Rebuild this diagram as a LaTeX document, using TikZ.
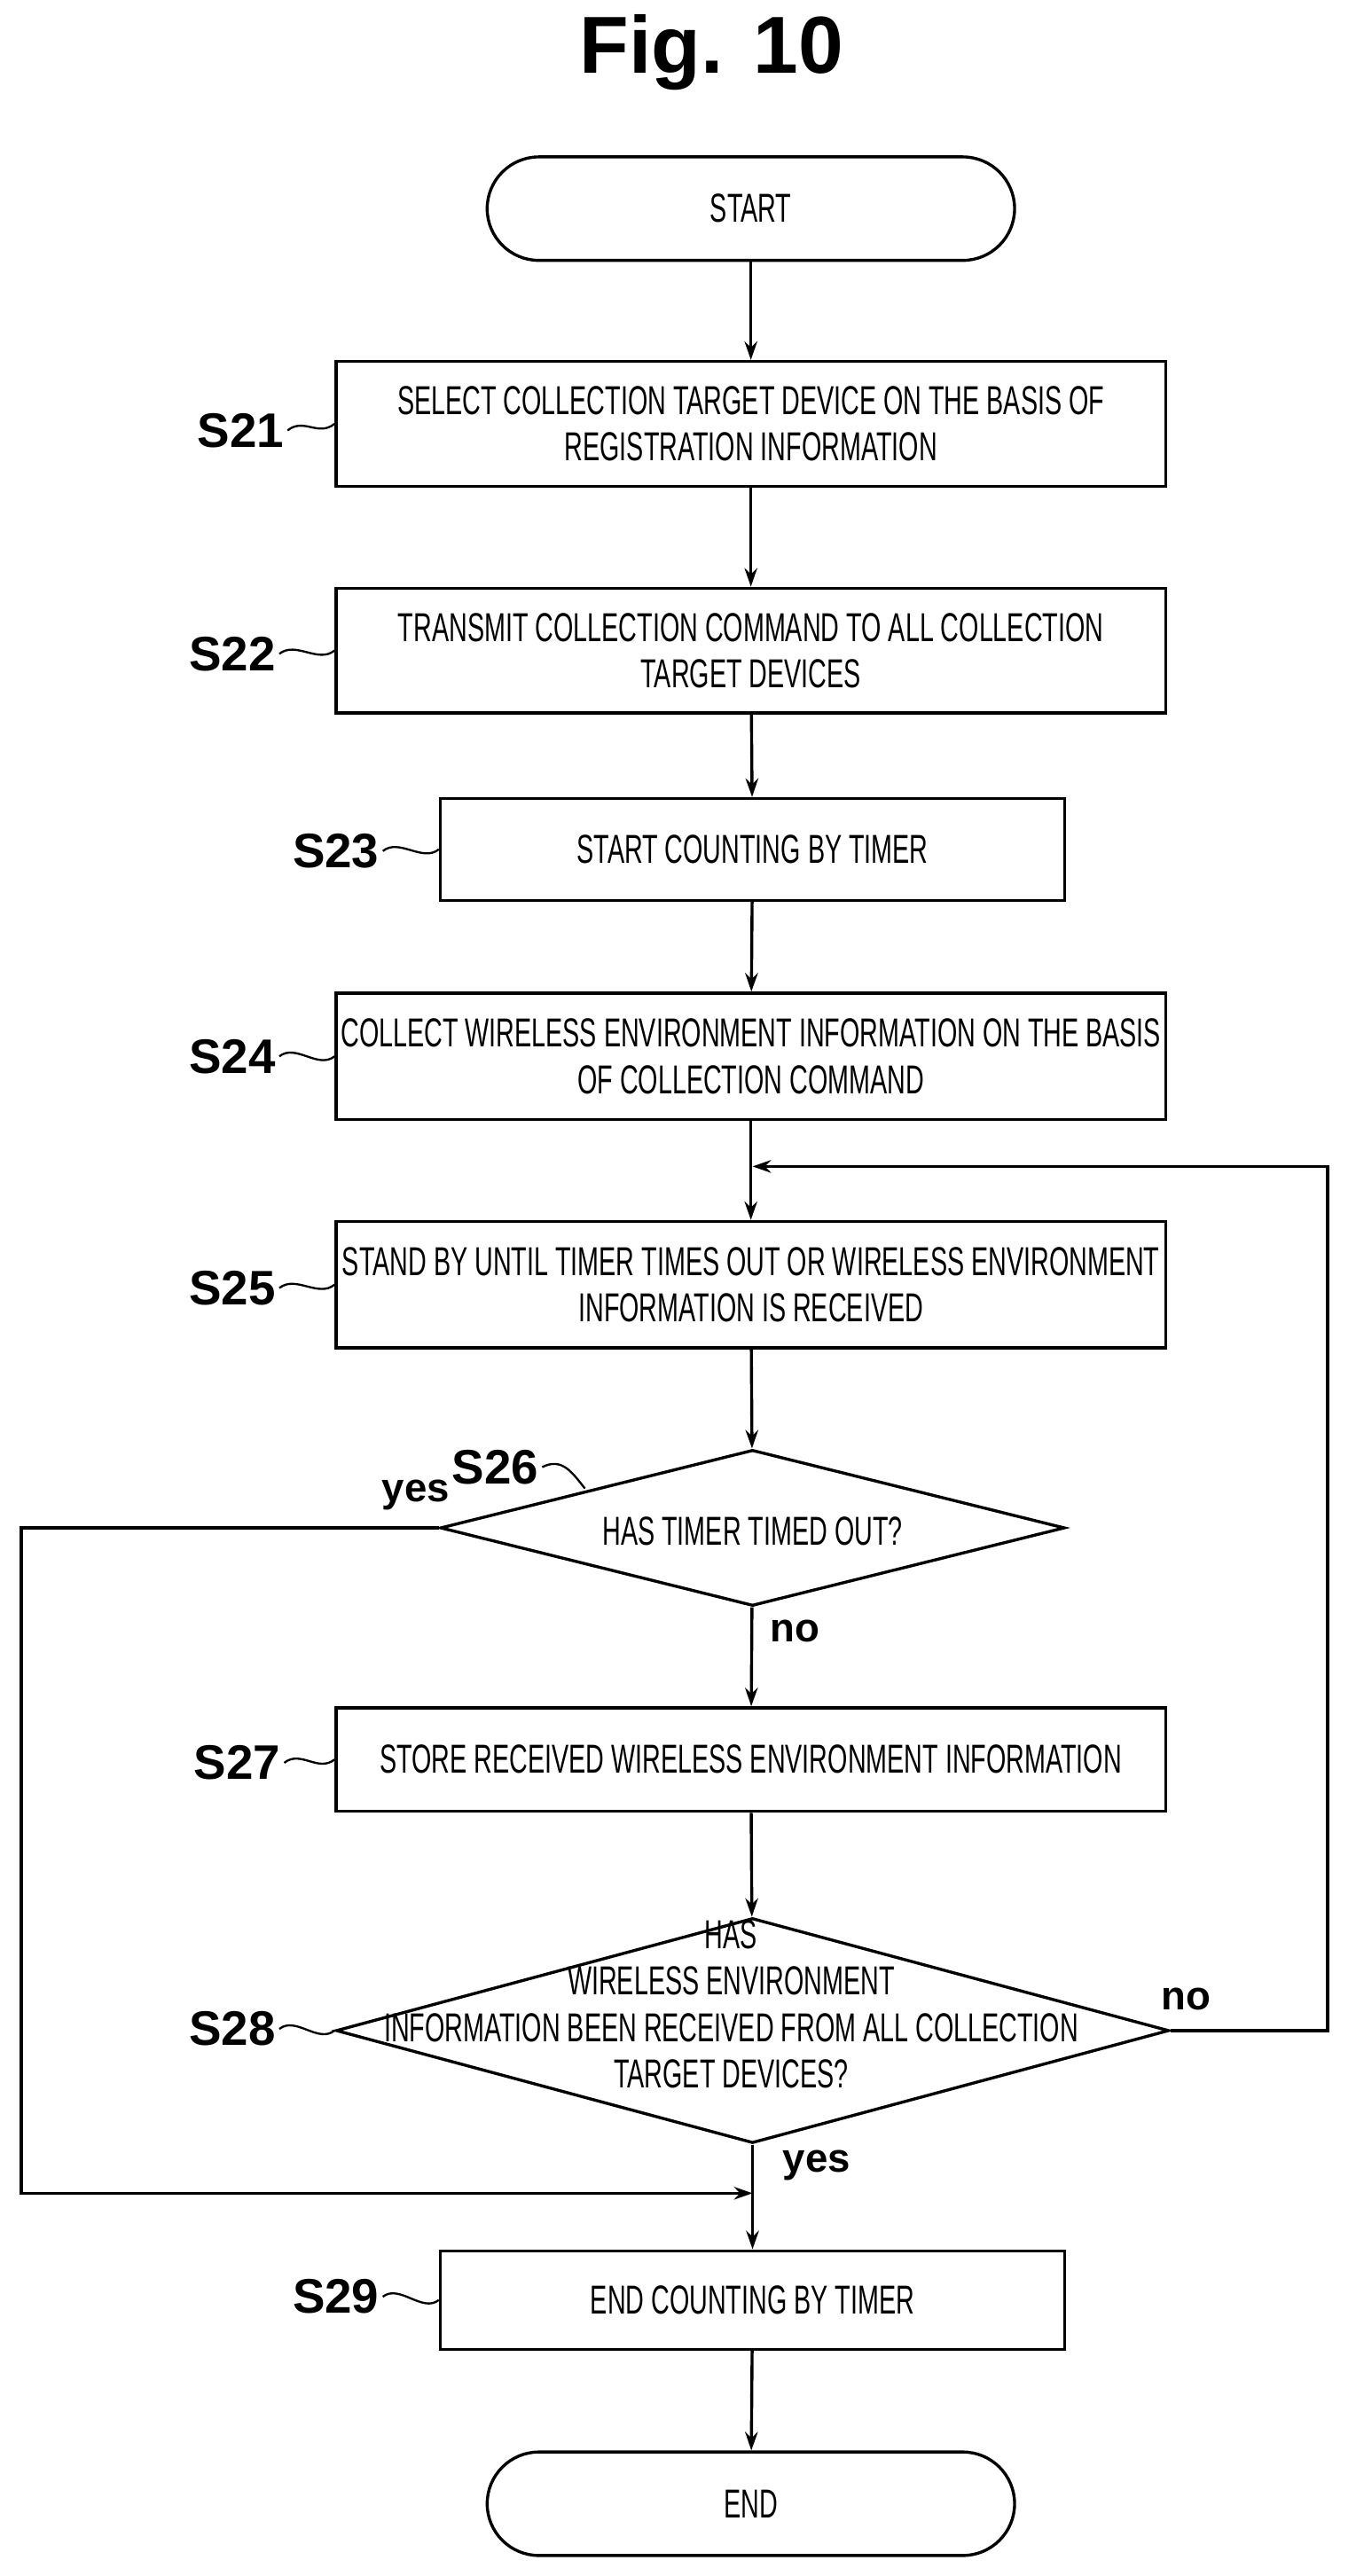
\documentclass[tikz,border=0pt]{standalone}
\usepackage{fontspec}
\setmainfont{Liberation Sans}
\newfontfamily\condfont[FakeStretch=0.63]{Liberation Sans}
\usetikzlibrary{shapes.geometric,arrows.meta}
\begin{document}
\begin{tikzpicture}[x=0.05cm,y=-0.05cm,
  line width=2.6pt,
  >={Stealth[length=16pt,width=11pt]},
  txt/.style={font=\condfont\fontsize{35}{40}\selectfont,align=center},
  box/.style={draw,rectangle,txt,inner sep=0pt},
  lab/.style={font=\bfseries\fontsize{42}{46}\selectfont,inner sep=2pt},
  yn/.style={font=\bfseries\fontsize{35}{38}\selectfont,inner sep=0pt},
  sq/.style={line width=1.8pt}]
\useasboundingbox (0,0) rectangle (825,1568);
\node[font=\bfseries\fontsize{70}{75}\selectfont] (title) at (433,32) {Fig. 10};
\node[draw,rounded corners=31.5*0.05cm,minimum width=321*0.05cm,minimum height=63*0.05cm,txt] (start) at (457,127) {START};
\node[box,minimum width=505*0.05cm,minimum height=76*0.05cm] (b21) at (457,258) {SELECT COLLECTION TARGET DEVICE ON THE BASIS OF\\REGISTRATION INFORMATION};
\node[box,minimum width=505*0.05cm,minimum height=76*0.05cm] (b22) at (457,396) {TRANSMIT COLLECTION COMMAND TO ALL COLLECTION\\TARGET DEVICES};
\node[box,minimum width=380*0.05cm,minimum height=62*0.05cm] (b23) at (458,517) {START COUNTING BY TIMER};
\node[box,minimum width=505*0.05cm,minimum height=77*0.05cm] (b24) at (457,643) {COLLECT WIRELESS ENVIRONMENT INFORMATION ON THE BASIS\\OF COLLECTION COMMAND};
\node[box,minimum width=505*0.05cm,minimum height=77*0.05cm] (b25) at (457,782) {STAND BY UNTIL TIMER TIMES OUT OR WIRELESS ENVIRONMENT\\INFORMATION IS RECEIVED};
\node[draw,diamond,aspect=4,minimum width=380*0.05cm,minimum height=95*0.05cm,inner sep=0pt,txt] (d26) at (458,930) {};
\node[txt] at (458,932) {HAS TIMER TIMED OUT?};
\node[box,minimum width=505*0.05cm,minimum height=63*0.05cm] (b27) at (457,1071) {STORE RECEIVED WIRELESS ENVIRONMENT INFORMATION};
\node[draw,diamond,aspect=3.7,minimum width=507*0.05cm,minimum height=137*0.05cm,inner sep=0pt] (d28) at (458,1236) {};
\node[txt] at (445,1220) {HAS\\WIRELESS ENVIRONMENT\\INFORMATION BEEN RECEIVED FROM ALL COLLECTION\\TARGET DEVICES?};
\node[box,minimum width=380*0.05cm,minimum height=60*0.05cm] (b29) at (458,1400) {END COUNTING BY TIMER};
\node[draw,rounded corners=31.5*0.05cm,minimum width=321*0.05cm,minimum height=63*0.05cm,txt] (end) at (457,1524) {END};

\node[lab,anchor=east] (l21) at (175,262) {S21};
\node[lab,anchor=east] (l22) at (170,398) {S22};
\node[lab,anchor=east] (l23) at (233,518) {S23};
\node[lab,anchor=east] (l24) at (170,643) {S24};
\node[lab,anchor=east] (l25) at (170,784) {S25};
\node[lab,anchor=east] (l26) at (330,893) {S26};
\node[lab,anchor=east] (l27) at (173,1073) {S27};
\node[lab,anchor=east] (l28) at (170,1235) {S28};
\node[lab,anchor=east] (l29) at (233,1398) {S29};
\foreach \a/\b in {l21/b21,l22/b22,l23/b23,l24/b24,l25/b25,l27/b27,l28/d28,l29/b29}
  \draw[sq] (\a.east) .. controls +(10,-8) and +(-10,8) .. (\b.west);
\coordinate (s26) at (356,906);
\draw[sq] (l26.east) .. controls +(12,-6) and +(-8,-10) .. (s26);

\node[yn] (yes1) at (253,910) {yes};
\node[yn] (no1) at (484,993) {no};
\node[yn] (no2) at (722,1217) {no};
\node[yn] (yes2) at (497,1318) {yes};

\draw[->] (start) -- (b21);
\draw[->] (b21) -- (b22);
\draw[->] (b22) -- (b23);
\draw[->] (b23) -- (b24);
\draw[->] (b24) -- (b25);
\draw[->] (b25) -- (d26);
\draw[->] (d26) -- (b27);
\draw[->] (b27) -- (d28);
\draw[->] (d28) -- (b29);
\draw[->] (b29) -- (end);
\coordinate (loopR) at (808,710);
\coordinate (loopT) at (458,710);
\draw[->] (d28.east) -| (loopR) -- (loopT);
\coordinate (yesL) at (13,1335);
\coordinate (yesT) at (458,1335);
\draw[->] (d26.west) -| (yesL) -- (yesT);
\end{tikzpicture}
\end{document}
